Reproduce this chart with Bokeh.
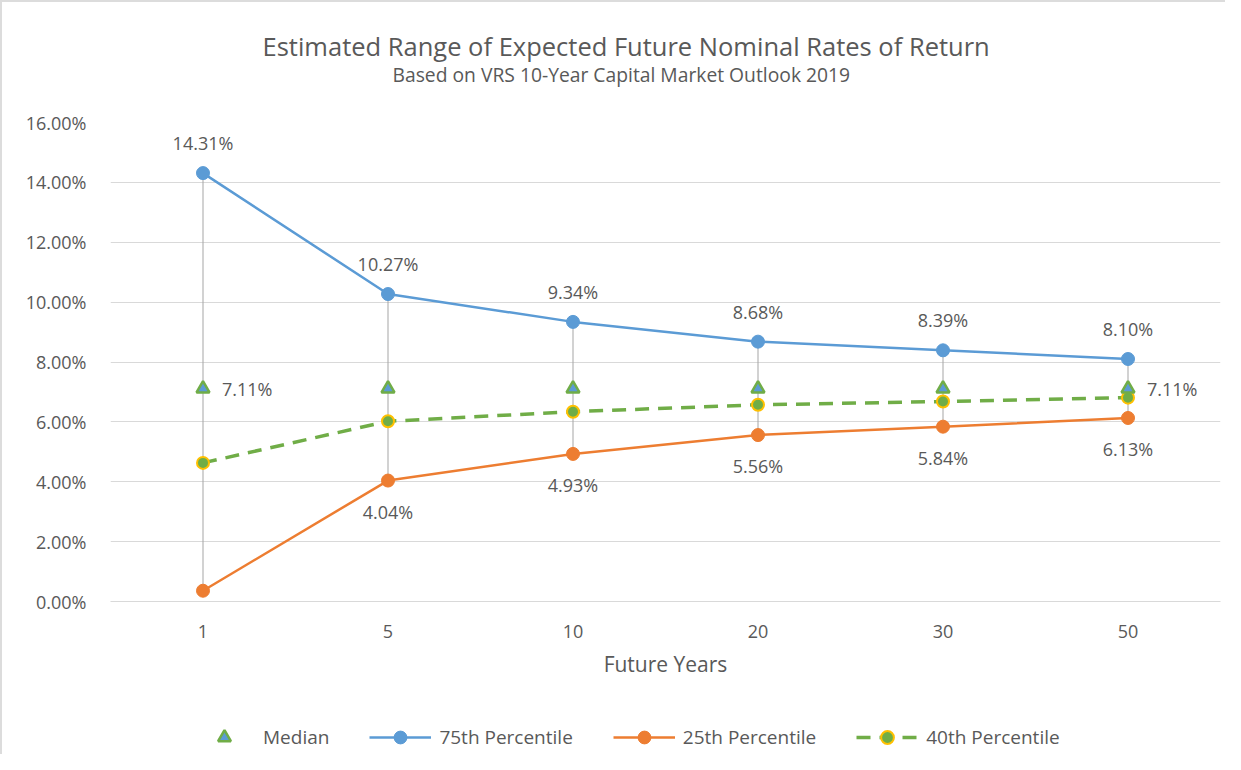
from bokeh.plotting import figure
from bokeh.layouts import column
from bokeh.models import (ColumnDataSource, FactorRange, FixedTicker, PrintfTickFormatter,
                          Label, LabelSet, Legend, LegendItem, Range1d)
from bokeh.core.properties import value
from bokeh.embed import file_html
from bokeh.resources import INLINE

years = ["1", "5", "10", "20", "30", "50"]
median = [7.11, 7.11, 7.11, 7.11, 7.11, 7.11]
p75 = [14.31, 10.27, 9.34, 8.68, 8.39, 8.10]
p25 = [0.36, 4.04, 4.93, 5.56, 5.84, 6.13]
p40 = [4.63, 6.02, 6.34, 6.57, 6.68, 6.81]
y_ticks = [0, 2, 4, 6, 8, 10, 12, 14, 16]
series_names = ["Median", "75th Percentile", "25th Percentile", "40th Percentile"]
title_text = "Estimated Range of Expected Future Nominal Rates of Return"
subtitle_text = "Based on VRS 10-Year Capital Market Outlook 2019"

BLUE = "#5B9BD5"
ORANGE = "#ED7D31"
GREEN = "#70AD47"
GOLD = "#FFC000"
GREY_TXT = "#595959"
FONT = "Open Sans"
W = 1223

src = ColumnDataSource(dict(
    x=years, median=median, p75=p75, p25=p25, p40=p40,
    l75=[f"{v:.2f}%" for v in p75],
    l25=[f"{v:.2f}%" for v in p25],
))
med_lab = ColumnDataSource(dict(
    x=[years[0], years[-1]], y=[median[0], median[-1]],
    t=[f"{median[0]:.2f}%", f"{median[-1]:.2f}%"],
))

line_kw = {
    "75": dict(line_color=BLUE, line_width=2.5),
    "25": dict(line_color=ORANGE, line_width=2.5),
    "40": dict(line_color=GREEN, line_width=3.5, line_dash="14 9"),
}
mark_kw = {
    "med": dict(marker="triangle", size=13, fill_color=BLUE, line_color=GREEN, line_width=2.5),
    "75": dict(size=13, fill_color=BLUE, line_color=BLUE),
    "25": dict(size=13, fill_color=ORANGE, line_color=ORANGE),
    "40": dict(size=12, fill_color=GREEN, line_color=GOLD, line_width=2),
}


def blank(fig):
    fig.outline_line_color = None
    fig.xgrid.visible = False
    fig.ygrid.visible = False
    fig.background_fill_color = "white"
    fig.border_fill_color = "white"


# ---- title strip ----
tf = figure(width=W, height=98, x_range=Range1d(0, 1), y_range=Range1d(0, 1),
            x_axis_type=None, y_axis_type=None, output_backend="svg",
            toolbar_location=None, min_border=0)
blank(tf)
tf.add_layout(Label(x=152, y=55, x_units="screen", y_units="screen", text=title_text,
                    text_align="left", text_baseline="middle", text_font=FONT,
                    text_font_size="25.5px", text_color=GREY_TXT))
tf.add_layout(Label(x=282, y=26, x_units="screen", y_units="screen", text=subtitle_text,
                    text_align="left", text_baseline="middle", text_font=FONT,
                    text_font_size="19.3px", text_color=GREY_TXT))

# ---- main chart ----
p = figure(width=W, height=590, x_range=FactorRange(*years, range_padding=0),
           y_range=Range1d(0, 16), output_backend="svg", toolbar_location=None,
           min_border_left=108, min_border_right=5, min_border_top=22, min_border_bottom=89)
p.outline_line_color = None
p.background_fill_color = "white"
p.border_fill_color = "white"

p.xgrid.grid_line_color = None
p.ygrid.grid_line_color = "#D9D9D9"
p.ygrid.ticker = FixedTicker(ticks=y_ticks)
p.yaxis.ticker = FixedTicker(ticks=y_ticks)
p.yaxis.formatter = PrintfTickFormatter(format="%.2f%%")
p.yaxis.axis_line_color = None
p.yaxis.major_tick_line_color = None
p.yaxis.minor_tick_line_color = None
p.yaxis.major_label_standoff = 18
for ax in (p.xaxis, p.yaxis):
    ax.major_label_text_font = FONT
    ax.major_label_text_font_size = "18px"
    ax.major_label_text_color = GREY_TXT
p.xaxis.axis_line_color = "#D9D9D9"
p.xaxis.major_tick_line_color = None
p.xaxis.minor_tick_line_color = None
p.xaxis.major_label_standoff = 17
p.xaxis.axis_label = "Future Years"
p.xaxis.axis_label_text_font = FONT
p.xaxis.axis_label_text_font_size = "21px"
p.xaxis.axis_label_text_font_style = "normal"
p.xaxis.axis_label_text_color = GREY_TXT
p.xaxis.axis_label_standoff = 9

# high-low lines
p.segment(x0="x", y0="p75", x1="x", y1="p25", source=src, line_color="#A5A5A5", line_width=1)

p.line("x", "p75", source=src, **line_kw["75"])
p.scatter("x", "p75", source=src, **mark_kw["75"])
p.line("x", "p25", source=src, **line_kw["25"])
p.scatter("x", "p25", source=src, **mark_kw["25"])
p.line("x", "p40", source=src, **line_kw["40"])
p.scatter("x", "p40", source=src, **mark_kw["40"])
p.scatter("x", "median", source=src, **mark_kw["med"])

lab_kw = dict(text_baseline="middle", text_font=value(FONT), text_font_size="18px",
              text_color=GREY_TXT)
p.add_layout(LabelSet(x="x", y="p75", text="l75", source=src, y_offset=30,
                      text_align="center", **lab_kw))
p.add_layout(LabelSet(x="x", y="p25", text="l25", source=src, y_offset=-31,
                      text_align="center", **lab_kw))
p.add_layout(LabelSet(x="x", y="y", text="t", source=med_lab, x_offset=19,
                      text_align="left", **lab_kw))

# ---- legend strip (same series drawn out of view, only the legend shows) ----
lf = figure(width=W, height=64, x_range=FactorRange(*years, range_padding=0),
            y_range=Range1d(-100, -90), x_axis_type=None, y_axis_type=None,
            output_backend="svg", toolbar_location=None, min_border=0)
blank(lf)
lm = lf.scatter("x", "median", source=src, **mark_kw["med"])
l75a = lf.line("x", "p75", source=src, **line_kw["75"])
l75b = lf.scatter("x", "p75", source=src, **mark_kw["75"])
l25a = lf.line("x", "p25", source=src, **line_kw["25"])
l25b = lf.scatter("x", "p25", source=src, **mark_kw["25"])
l40a = lf.line("x", "p40", source=src, **line_kw["40"])
l40b = lf.scatter("x", "p40", source=src, **mark_kw["40"])

legend = Legend(items=[
    LegendItem(label=series_names[0], renderers=[lm]),
    LegendItem(label=series_names[1], renderers=[l75a, l75b]),
    LegendItem(label=series_names[2], renderers=[l25a, l25b]),
    LegendItem(label=series_names[3], renderers=[l40a, l40b]),
], orientation="horizontal", location=(83, 1), glyph_width=62, glyph_height=32,
    label_standoff=8, spacing=40, padding=0, margin=0,
    border_line_color=None, background_fill_alpha=0,
    label_text_font=FONT, label_text_font_size="19px", label_text_color=GREY_TXT)
lf.add_layout(legend)

layout = column(tf, p, lf, spacing=0)
layout.styles = {"border-top": "2px solid #DCDCDC", "border-left": "2px solid #DCDCDC"}

open("out.html", "w").write(file_html(layout, INLINE))
